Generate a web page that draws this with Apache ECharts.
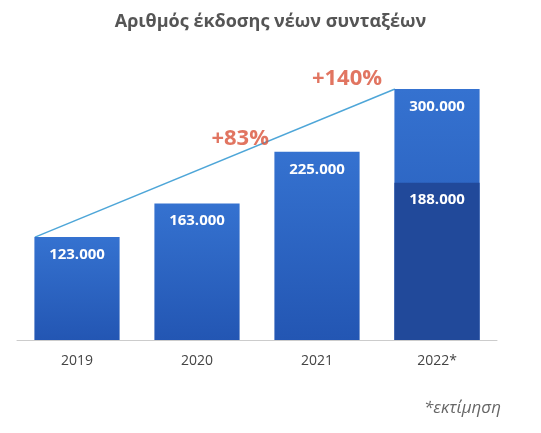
<!DOCTYPE html>
<html><head><meta charset="utf-8">
<script src="https://cdn.jsdelivr.net/npm/echarts@6/dist/echarts.min.js"></script>
<style>html,body{margin:0;background:#fff}#c{width:541px;height:433px}</style>
</head><body><div id="c"></div>
<script>
const categories = ['2019','2020','2021','2022*'];
const totals = [123000,163000,225000,300000];
const current2022 = [null,null,null,188000];
const trendPoints = [[-0.35,123000],[2.65,300000]];
const growthLabels = [[1.36,240000,'+83%'],[2.25,312000,'+140%']];
const fmt = v => String(v).replace(/\B(?=(\d{3})+(?!\d))/g,'.');
const chart = echarts.init(document.getElementById('c'));
const grad = new echarts.graphic.LinearGradient(0,0,0,1,[{offset:0,color:'#3572d0'},{offset:1,color:'#2356b3'}]);
chart.setOption({
  backgroundColor:'#fff',
  title:{text:'Αριθμός έκδοσης νέων συνταξέων',left:'center',top:8,textStyle:{fontFamily:'Open Sans',fontSize:18,fontWeight:'bold',color:'#555'}},
  grid:{left:17,right:44,top:89,bottom:93},
  xAxis:[{type:'category',data:categories,axisTick:{show:false},axisLine:{lineStyle:{color:'#ccc'}},
    axisLabel:{color:'#444',fontSize:14,margin:14,fontFamily:'Open Sans'}},
    {type:'value',min:-0.5,max:3.5,show:false}],
  yAxis:{type:'value',min:0,max:300000,show:false},
  series:[
    {type:'bar',data:totals,barWidth:'71%',itemStyle:{color:grad},
     label:{show:true,position:'insideTop',distance:10,color:'#fff',fontWeight:'bold',fontSize:15,fontFamily:'Open Sans',formatter:p=>fmt(p.value)}},
    {type:'bar',data:current2022,barWidth:'71%',barGap:'-100%',itemStyle:{color:'#21499a'},
     label:{show:true,position:'insideTop',distance:10,color:'#fff',fontWeight:'bold',fontSize:15,fontFamily:'Open Sans',formatter:p=>fmt(p.value)}},
    {type:'line',xAxisIndex:1,data:trendPoints,symbol:'none',lineStyle:{color:'#4ea6d8',width:1.5},z:1},
    {type:'scatter',xAxisIndex:1,clip:false,symbolSize:0,data:growthLabels.map(d=>[d[0],d[1],d[2]]),
     label:{show:true,position:'inside',formatter:p=>p.value[2],color:'#d9533a',fontSize:22,fontWeight:'bold',fontFamily:'Open Sans'}}
  ],
  graphic:[{type:'text',right:40,top:400,style:{text:'*εκτίμηση',font:'italic 17px "Open Sans"',fill:'#666'}}]
});
</script></body></html>
